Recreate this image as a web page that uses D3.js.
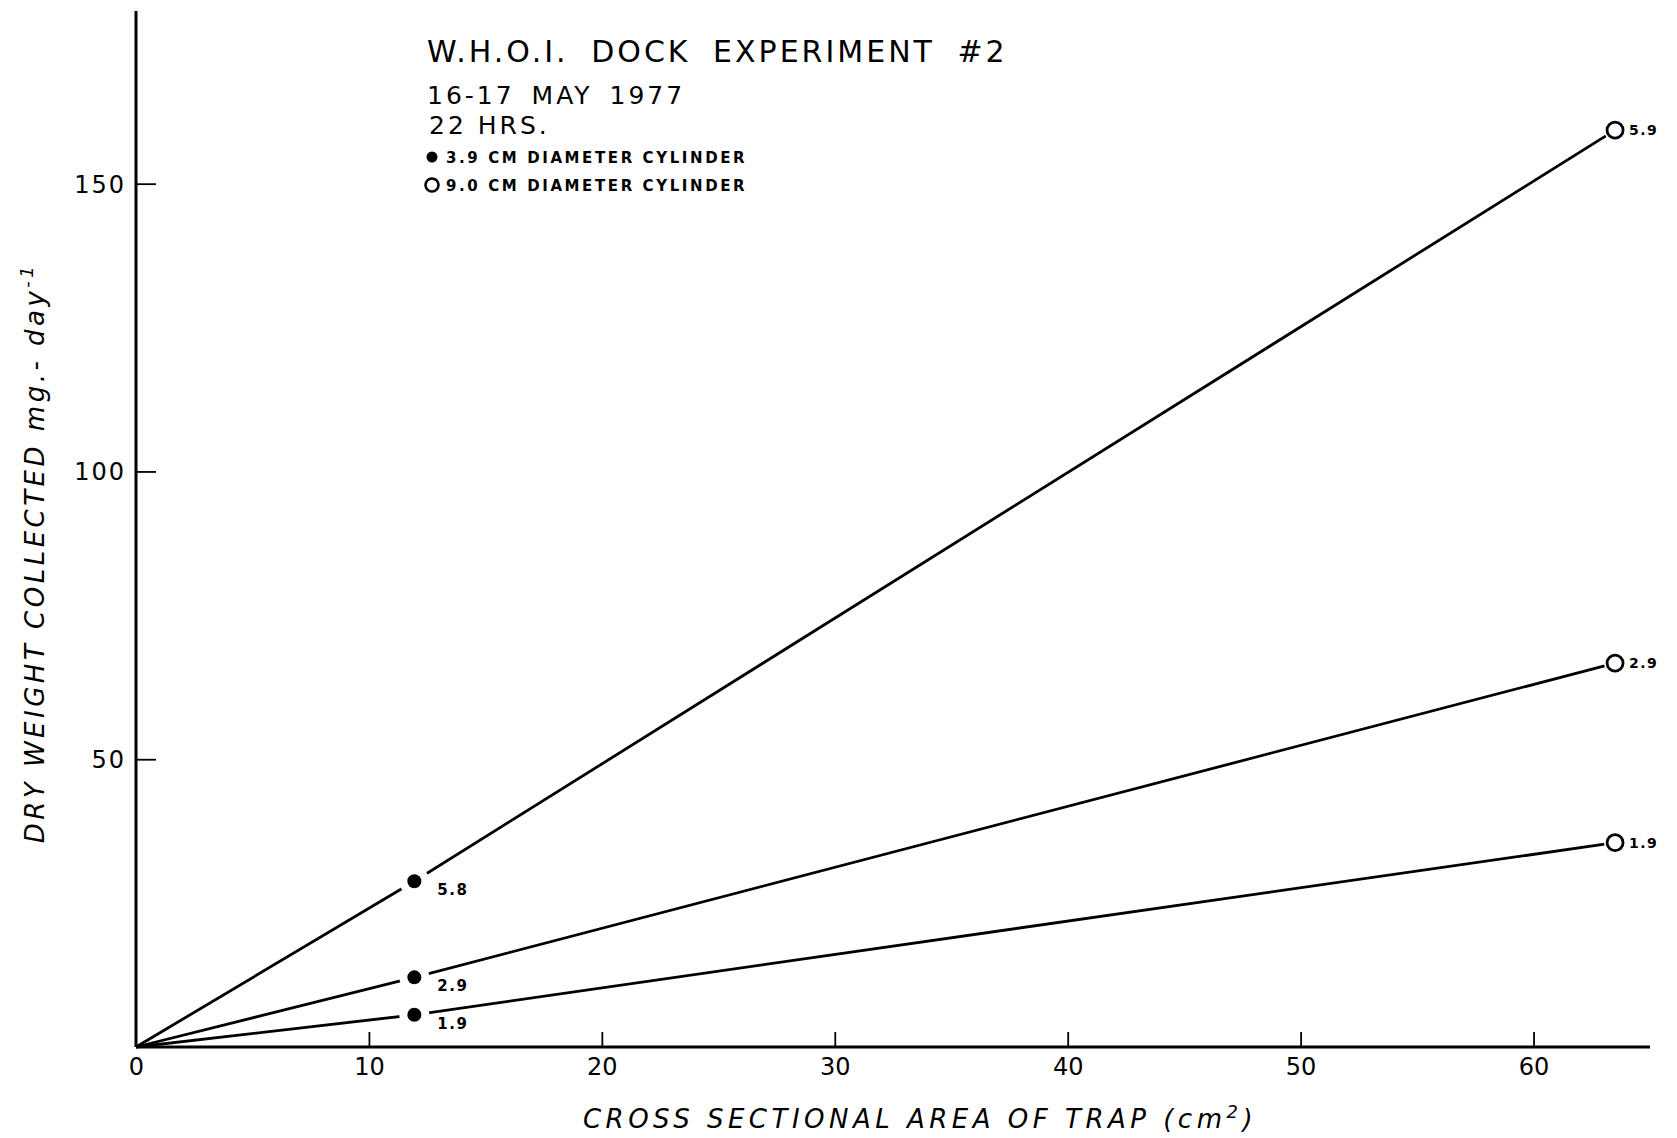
<!DOCTYPE html>
<html>
<head>
<meta charset="utf-8">
<script src="https://cdn.jsdelivr.net/npm/d3@7"></script>
<style>
  body { margin: 0; background: #fff; }
  text { fill: #000; }
</style>
</head>
<body>
<div id="chart"></div>
<script>
// WHOI dock experiment #2 - sediment trap catch vs trap area

const smallArea = 11.95;   // 3.9 cm cylinder
const largeArea = 63.5;    // 9.0 cm cylinder
const smallValues = [28.8, 12.1, 5.6];
const largeValues = [159.3, 66.7, 35.5];
const smallLabels = ["5.8", "2.9", "1.9"];
const largeLabels = ["5.9", "2.9", "1.9"];
const xTicks = [0, 10, 20, 30, 40, 50, 60];
const yTicks = [50, 100, 150];
const legendItems = ["3.9 CM  DIAMETER  CYLINDER", "9.0 CM  DIAMETER  CYLINDER"];

const width = 1677;
const height = 1138;
const margin = { top: 11, left: 136, right: 27, bottom: 91 };

const x = d3.scaleLinear().domain([0, 65]).range([margin.left, width - margin.right]);
const y = d3.scaleLinear().domain([0, 180]).range([height - margin.bottom, margin.top]);

const svg = d3
  .select("#chart")
  .append("svg")
  .attr("width", width)
  .attr("height", height);

// axes
const xAxis = svg
  .append("g")
  .attr("transform", `translate(0,${y(0)})`)
  .call(d3.axisBottom(x).tickValues(xTicks).tickSize(-15).tickPadding(8).tickFormat(d3.format("d")));
const yAxis = svg
  .append("g")
  .attr("transform", `translate(${x(0)},0)`)
  .call(d3.axisLeft(y).tickValues(yTicks).tickSize(-20).tickPadding(10).tickFormat(d3.format("d")));

[xAxis, yAxis].forEach((g) => {
  g.select(".domain").attr("stroke", "#000").attr("stroke-width", 3);
  g.selectAll(".tick line").attr("stroke", "#000").attr("stroke-width", 1.8);
  g.selectAll(".tick text")
    .attr("font-family", "DejaVu Sans")
    .attr("font-size", 24)
    .attr("fill", "#000");
});
xAxis.selectAll(".tick text").attr("dy", "0.85em");
xAxis.selectAll(".tick").filter((d) => d === 0).select("line").remove();
yAxis.selectAll(".tick text").attr("dy", "0.35em").attr("letter-spacing", 2);
xAxis.select(".domain").attr("d", `M${x(0)},0H${x(65)}`);
yAxis.select(".domain").attr("d", `M0,${y(0)}V${y(180)}`);

// lines: origin -> small trap -> large trap
const lineGen = d3.line().x((d) => x(d[0])).y((d) => y(d[1]));
const lineData = smallValues.map((v, i) => [[0, 0], [smallArea, v], [largeArea, largeValues[i]]]);

svg
  .selectAll("path.trend")
  .data(lineData)
  .join("path")
  .attr("class", "trend")
  .attr("d", lineGen)
  .attr("fill", "none")
  .attr("stroke", "#000")
  .attr("stroke-width", 2.8);

// gaps round the filled points
svg
  .selectAll("circle.gap")
  .data(smallValues)
  .join("circle")
  .attr("class", "gap")
  .attr("cx", x(smallArea))
  .attr("cy", (d) => y(d))
  .attr("r", 15)
  .attr("fill", "#fff");

svg
  .selectAll("circle.small")
  .data(smallValues)
  .join("circle")
  .attr("class", "small")
  .attr("cx", x(smallArea))
  .attr("cy", (d) => y(d))
  .attr("r", 7)
  .attr("fill", "#000");

// open circles, with a little gap where the line meets them
svg
  .selectAll("circle.large")
  .data(largeValues)
  .join("circle")
  .attr("class", "large")
  .attr("cx", x(largeArea))
  .attr("cy", (d) => y(d))
  .attr("r", 8)
  .attr("fill", "#fff")
  .attr("stroke", "#fff")
  .attr("stroke-width", 6);
svg
  .selectAll("circle.large-ring")
  .data(largeValues)
  .join("circle")
  .attr("class", "large-ring")
  .attr("cx", x(largeArea))
  .attr("cy", (d) => y(d))
  .attr("r", 8)
  .attr("fill", "none")
  .attr("stroke", "#000")
  .attr("stroke-width", 2.8);

svg
  .selectAll("text.small-label")
  .data(smallValues)
  .join("text")
  .attr("class", "small-label")
  .attr("x", x(smallArea) + 23)
  .attr("y", (d) => y(d) + 14)
  .attr("font-family", "DejaVu Sans")
  .attr("font-weight", "bold")
  .attr("font-size", 15)
  .attr("letter-spacing", 1.5)
  .text((_, i) => smallLabels[i]);

svg
  .selectAll("text.large-label")
  .data(largeValues)
  .join("text")
  .attr("class", "large-label")
  .attr("x", x(largeArea) + 14)
  .attr("y", (d) => y(d) + 5)
  .attr("font-family", "DejaVu Sans")
  .attr("font-weight", "bold")
  .attr("font-size", 14)
  .attr("letter-spacing", 1.5)
  .text((_, i) => largeLabels[i]);

// axis titles
svg
  .append("text")
  .attr("x", 920)
  .attr("y", 1128)
  .attr("text-anchor", "middle")
  .attr("font-family", "DejaVu Sans")
  .attr("font-style", "italic")
  .attr("font-size", 26)
  .attr("letter-spacing", 4.5)
  .html('CROSS  SECTIONAL  AREA  OF TRAP (cm<tspan dy="-10" font-size="18">2</tspan><tspan dy="10">)</tspan>');

svg
  .append("text")
  .attr("transform", `translate(44,553) rotate(-90)`)
  .attr("text-anchor", "middle")
  .attr("font-family", "DejaVu Sans")
  .attr("font-style", "italic")
  .attr("font-size", 26)
  .attr("letter-spacing", 3.5)
  .html('DRY  WEIGHT  COLLECTED  mg.- day<tspan dy="-11" font-size="18">-1</tspan>');

// title block
const title = svg.append("g").attr("font-family", "DejaVu Sans");
title
  .append("text")
  .attr("x", 427)
  .attr("y", 62)
  .attr("font-size", 30)
  .attr("letter-spacing", 3)
  .attr("word-spacing", 10)
  .text("W.H.O.I.  DOCK  EXPERIMENT #2");
title
  .append("text")
  .attr("x", 427)
  .attr("y", 104)
  .attr("font-size", 25)
  .attr("letter-spacing", 3)
  .attr("word-spacing", 6)
  .text("16-17  MAY  1977");
title
  .append("text")
  .attr("x", 429)
  .attr("y", 134)
  .attr("font-size", 25)
  .attr("letter-spacing", 3)
  .text("22  HRS.");

const legend = title
  .selectAll("g.legend")
  .data(legendItems)
  .join("g")
  .attr("class", "legend")
  .attr("transform", (_, i) => `translate(432,${157 + i * 28})`);

legend
  .append("circle")
  .attr("r", (_, i) => (i === 0 ? 5.5 : 6.5))
  .attr("fill", (_, i) => (i === 0 ? "#000" : "#fff"))
  .attr("stroke", "#000")
  .attr("stroke-width", (_, i) => (i === 0 ? 0 : 2.6));

legend
  .append("text")
  .attr("x", 14)
  .attr("y", 6)
  .attr("font-size", 15)
  .attr("font-weight", "bold")
  .attr("letter-spacing", 2.6)
  .text((d) => d);
</script>
</body>
</html>
